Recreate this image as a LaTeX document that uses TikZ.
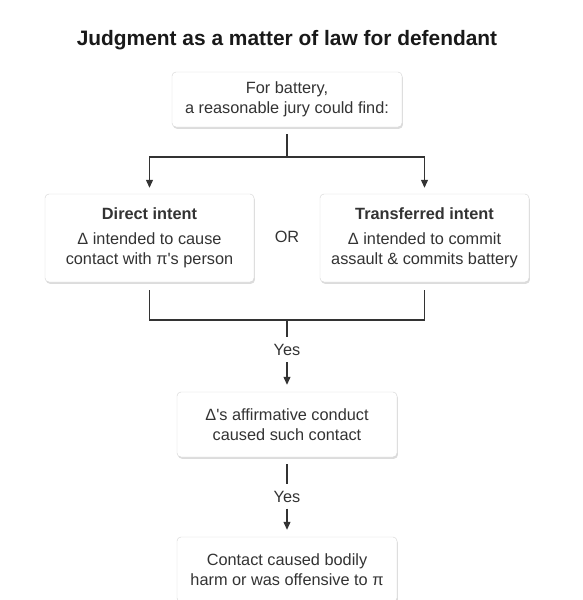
\documentclass[tikz,border=0pt]{standalone}
\usepackage{fontspec}
\setmainfont{Liberation Sans}
\usetikzlibrary{positioning, arrows.meta, shadows}
\definecolor{ink}{HTML}{333333}
\definecolor{rim}{HTML}{D4D4D4}

\begin{document}
\begin{tikzpicture}[x=1pt, y=-1pt, node distance=75pt,
  box/.style={draw=rim, fill=white, rounded corners=4pt, align=center, text=ink,
    font=\fontsize{16.3}{19.5}\selectfont,
    drop shadow={shadow xshift=0.9pt, shadow yshift=-1.8pt, opacity=0.28}},
  sidebox/.style={box, minimum width=209pt, minimum height=88pt},
  midbox/.style={box, minimum width=220pt, minimum height=65pt},
  lab/.style={text=ink, inner sep=0pt, font=\fontsize{16.3}{19.5}\selectfont},
  link/.style={draw=ink, line width=1.1pt},
  arr/.style={link, -{Triangle[length=8pt, width=7pt]}}]
\useasboundingbox (0,0) rectangle (582,600);

\node (title) [anchor=base, text=black!90, font=\bfseries\fontsize{20.9}{25}\selectfont] at (287,45) {Judgment as a matter of law for defendant};
\node (start) [box, minimum width=230pt, minimum height=55pt] at (287,99.5) {For battery,\\ a reasonable jury could find:};
\node (direct) [sidebox] at (149.5,238) {\textbf{Direct intent}\\[5.5pt] Δ intended to cause\\ contact with π\textquotesingle s person};
\node (transfer) [sidebox] [right of = direct, node distance=275pt] {\textbf{Transferred intent}\\[5.5pt] Δ intended to commit\\ assault \& commits battery};
\node (or) [lab] at (287,237) {OR};
\node (yes1) [lab, minimum height=25pt] at (287,349.5) {Yes};
\node (conduct) [midbox] [below of = yes1] {Δ\textquotesingle s affirmative conduct\\ caused such contact};
\node (yes2) [lab, minimum height=24pt] [below of = conduct, node distance=72pt] {Yes};
\node (harm) [midbox] [below of = yes2, node distance=73pt] {Contact caused bodily\\ harm or was offensive to π};

\coordinate (split) at (287,157);
\coordinate (join) at (287,320);

\draw[link, shorten <=7pt] (start) -- (split);
\draw[arr, shorten >=6pt] (split) -| (direct);
\draw[arr, shorten >=6pt] (split) -| (transfer);
\draw[link, shorten <=8pt, shorten >=8pt] (direct) |- (join) -| (transfer);
\draw[link] (join) -- (yes1);
\draw[arr, shorten >=7pt] (yes1) -- (conduct);
\draw[link, shorten <=7pt] (conduct) -- (yes2);
\draw[arr, shorten >=7pt] (yes2) -- (harm);
\end{tikzpicture}
\end{document}
